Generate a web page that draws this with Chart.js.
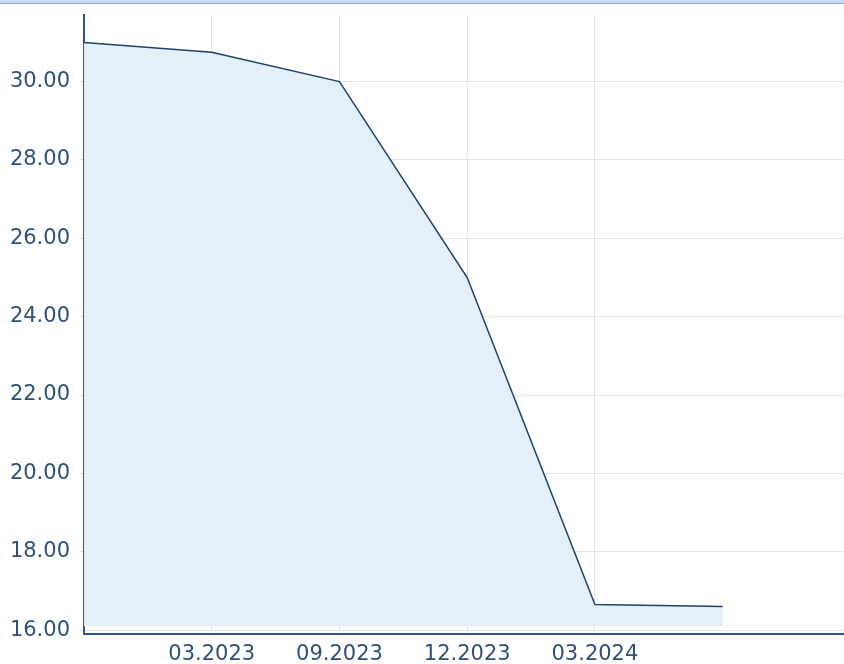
<!DOCTYPE html>
<html>
<head>
<meta charset="utf-8">
<script src="https://cdn.jsdelivr.net/npm/chart.js@4/dist/chart.umd.min.js"></script>
<style>
    html, body { margin: 0; padding: 0; background: #fff; }
    #wrap { position: relative; width: 844px; height: 664px; }
    #topbar {
        position: absolute; left: 0; top: 0; width: 844px; height: 3px;
        background: #c9def2; border-bottom: 1px solid #8eaac6;
    }
</style>
</head>
<body>
<div id="wrap">
    <canvas id="price-chart" width="844" height="664"></canvas>
    <div id="topbar"></div>
</div>
<script>
const dates = ["", "03.2023", "09.2023", "12.2023", "03.2024", ""];
const prices = [31.0, 30.75, 30.0, 25.0, 16.65, 16.6];
const xTickIndex = [1, 2, 3, 4];
const yTicks = [16, 18, 20, 22, 24, 26, 28, 30];

const TEXT = "#2f5078";
const AXIS = "#2f5783";
const GRID = "#e4e4e4";

const canvas = document.getElementById("price-chart");

new Chart(canvas, {
    type: "line",
    data: {
        datasets: [{
            data: prices.map((p, i) => ({ x: i, y: p })),
            borderColor: "#1f4068",
            borderWidth: 1.5,
            backgroundColor: "#e3eff9",
            fill: { value: 16.1 },
            tension: 0,
            pointRadius: 0
        }]
    },
    options: {
        responsive: false,
        animation: false,
        layout: { padding: { top: 15, right: 0, left: 0, bottom: 0 } },
        plugins: {
            legend: { display: false },
            tooltip: { enabled: false }
        },
        scales: {
            x: {
                type: "linear",
                min: 0,
                max: 5.95,
                afterBuildTicks: scale => {
                    scale.ticks = xTickIndex.map(v => ({ value: v }));
                },
                afterFit: scale => {
                    scale.height = 30;
                    scale.paddingLeft = 0;
                    scale.paddingRight = 0;
                },
                ticks: {
                    autoSkip: false,
                    maxRotation: 0,
                    padding: 8,
                    color: TEXT,
                    font: { family: "DejaVu Sans", size: 21 },
                    callback: value => dates[value]
                },
                grid: { color: GRID, drawTicks: false },
                border: { color: AXIS, width: 2 }
            },
            y: {
                min: 15.9,
                max: 31.7,
                afterBuildTicks: scale => {
                    scale.ticks = yTicks.map(v => ({ value: v }));
                },
                afterFit: scale => {
                    scale.width = 84;
                    scale.paddingTop = 0;
                    scale.paddingBottom = 0;
                },
                ticks: {
                    padding: 10,
                    color: TEXT,
                    font: { family: "DejaVu Sans", size: 21 },
                    callback: value => value.toFixed(2)
                },
                grid: { color: GRID, tickLength: 4 },
                border: { color: AXIS, width: 2 }
            }
        }
    }
});
</script>
</body>
</html>
